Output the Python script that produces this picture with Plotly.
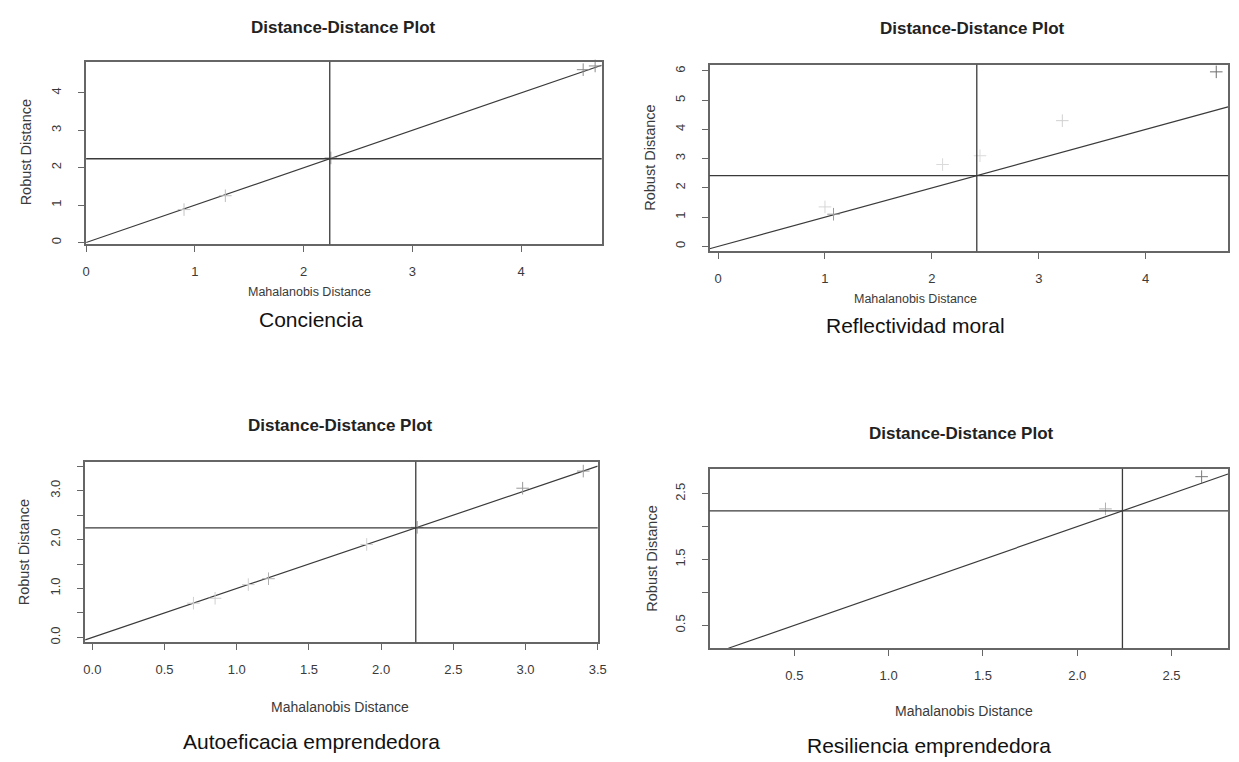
import plotly.graph_objects as go

W, H = 1239, 762

# ---------------- data ----------------
panel_names = ["Conciencia", "Reflectividad moral", "Autoeficacia emprendedora", "Resiliencia emprendedora"]
plot_title = "Distance-Distance Plot"
x_title = "Mahalanobis Distance"
y_title = "Robust Distance"

# visible points (Mahalanobis distance, robust distance)
md_conciencia = [0.90, 1.28, 2.25, 4.57, 4.68]
rd_conciencia = [0.88, 1.25, 2.26, 4.62, 4.72]
md_reflect = [1.00, 1.08, 2.10, 2.45, 3.22, 4.66]
rd_reflect = [1.35, 1.10, 2.80, 3.10, 4.30, 5.97]
md_autoef = [0.70, 0.85, 1.08, 1.22, 1.90, 2.25, 2.98, 3.40]
rd_autoef = [0.70, 0.80, 1.08, 1.20, 1.90, 2.25, 3.05, 3.40]
md_resil = [2.15, 2.66]
rd_resil = [2.27, 2.76]

cutoffs = [2.24, 2.42, 2.24, 2.24]

x_ranges = [[0.0, 4.74], [-0.08, 4.77], [-0.05, 3.50], [0.05, 2.80]]
y_ranges = [[-0.05, 4.83], [-0.17, 6.21], [-0.10, 3.59], [0.15, 2.88]]

x_tickvals = [[0, 1, 2, 3, 4], [0, 1, 2, 3, 4],
              [0.0, 0.5, 1.0, 1.5, 2.0, 2.5, 3.0, 3.5],
              [0.5, 1.0, 1.5, 2.0, 2.5]]
x_ticktext = [["0", "1", "2", "3", "4"], ["0", "1", "2", "3", "4"],
              ["0.0", "0.5", "1.0", "1.5", "2.0", "2.5", "3.0", "3.5"],
              ["0.5", "1.0", "1.5", "2.0", "2.5"]]
y_tickvals = [[0, 1, 2, 3, 4], [0, 1, 2, 3, 4, 5, 6],
              [0.0, 0.5, 1.0, 1.5, 2.0, 2.5, 3.0, 3.5],
              [0.5, 1.0, 1.5, 2.0, 2.5]]
y_ticktext = [["0", "1", "2", "3", "4"], ["0", "1", "2", "3", "4", "5", "6"],
              ["0.0", "", "1.0", "", "2.0", "", "3.0", ""],
              ["0.5", "", "1.5", "", "2.5"]]

points = [(md_conciencia, rd_conciencia), (md_reflect, rd_reflect),
          (md_autoef, rd_autoef), (md_resil, rd_resil)]

# marker shades (style only): faint scan-like markers
marker_shades = [
    ["#c4c4c4", "#bdbdbd", "#9a9a9a", "#8c8c8c", "#8c8c8c"],
    ["#d6d6d6", "#9a9a9a", "#dadada", "#dadada", "#d0d0d0", "#6f6f6f"],
    ["#cfcfcf", "#cfcfcf", "#cfcfcf", "#b0b0b0", "#d0d0d0", "#a0a0a0", "#9a9a9a", "#9a9a9a"],
    ["#b0b0b0", "#7a7a7a"],
]

# ---------------- layout geometry (pixels) ----------------
boxes = [  # left, top, right, bottom
    (83, 62, 604, 245),
    (713, 65, 1237, 252),
    (82, 463, 600, 644),
    (713, 470, 1237, 650),
]
title_pos = [(343, 28), (979, 29), (340, 427), (968, 435)]
xlab_pos = [(309, 293), (921, 300), (340, 709), (970, 713)]
ylab_pos = [(22, 153), (652, 158), (20, 554), (654, 560)]
caption_pos = [(310, 320), (921, 326), (311, 743), (935, 747)]
xlab_size = [12.5, 12.5, 14, 14]

def px(x):
    return x / W

def py(y):
    return 1 - y / H

FONT = "Liberation Sans, Arial, sans-serif"
LINE = "#3a3a3a"
BOX = "#666666"
TXT = "#3a3a3a"

fig = go.Figure()
shapes = []
annotations = []
layout_axes = {}

def ann(text, x, y, size, color, angle=0):
    return dict(text=text, x=px(x), y=py(y), xref="paper", yref="paper",
                xanchor="center", yanchor="middle", showarrow=False, textangle=angle,
                font=dict(family=FONT, size=size, color=color))

for i in range(4):
    n = "" if i == 0 else str(i + 1)
    xa, ya = "x" + n, "y" + n
    l, t, r, b = boxes[i]
    xr, yr = x_ranges[i], y_ranges[i]

    layout_axes["xaxis" + n] = dict(
        domain=[px(l), px(r)], range=xr, anchor=ya,
        showgrid=False, zeroline=False, showline=True, mirror=True,
        linecolor=BOX, linewidth=1.6,
        ticks="outside", ticklen=6, tickcolor=BOX, tickwidth=1,
        tickvals=x_tickvals[i], ticktext=x_ticktext[i],
        tickfont=dict(family=FONT, size=13, color=TXT),
        ticklabelstandoff=8,
    )
    layout_axes["yaxis" + n] = dict(
        domain=[py(b), py(t)], range=yr, anchor=xa,
        showgrid=False, zeroline=False, showline=True, mirror=True,
        linecolor=BOX, linewidth=1.6,
        ticks="outside", ticklen=6, tickcolor=BOX, tickwidth=1,
        tickvals=y_tickvals[i], ticktext=y_ticktext[i], tickangle=-90,
        tickfont=dict(family=FONT, size=13, color=TXT),
        ticklabelstandoff=12,
    )

    # diagonal reference line y = x
    lo = max(xr[0], yr[0])
    hi = min(xr[1], yr[1])
    fig.add_trace(go.Scatter(x=[lo, hi], y=[lo, hi], mode="lines",
                             line=dict(color=LINE, width=1.2),
                             xaxis=xa, yaxis=ya, showlegend=False, hoverinfo="skip"))

    # points
    mdv, rdv = points[i]
    fig.add_trace(go.Scatter(x=mdv, y=rdv, mode="markers",
                             marker=dict(symbol="cross-thin", size=9,
                                         line=dict(color=marker_shades[i], width=1)),
                             xaxis=xa, yaxis=ya, showlegend=False, cliponaxis=False))

    # cutoff lines
    c = cutoffs[i]
    shapes.append(dict(type="line", xref=xa + " domain", yref=ya, x0=0, x1=1, y0=c, y1=c,
                       line=dict(color=LINE, width=1.4)))
    shapes.append(dict(type="line", xref=xa, yref=ya + " domain", x0=c, x1=c, y0=0, y1=1,
                       line=dict(color=LINE, width=1.3)))

    # texts
    annotations.append(ann("<b>" + plot_title + "</b>", *title_pos[i], 17, "#222222"))
    annotations.append(ann(x_title, *xlab_pos[i], xlab_size[i], TXT))
    annotations.append(ann(y_title, *ylab_pos[i], 14.5, TXT, -90))
    annotations.append(ann(panel_names[i], *caption_pos[i], 21, "#111111"))

fig.update_layout(
    width=W, height=H, margin=dict(l=0, r=0, t=0, b=0),
    paper_bgcolor="white", plot_bgcolor="white",
    shapes=shapes, annotations=annotations, showlegend=False,
    **layout_axes,
)

fig.write_html("out.html")
